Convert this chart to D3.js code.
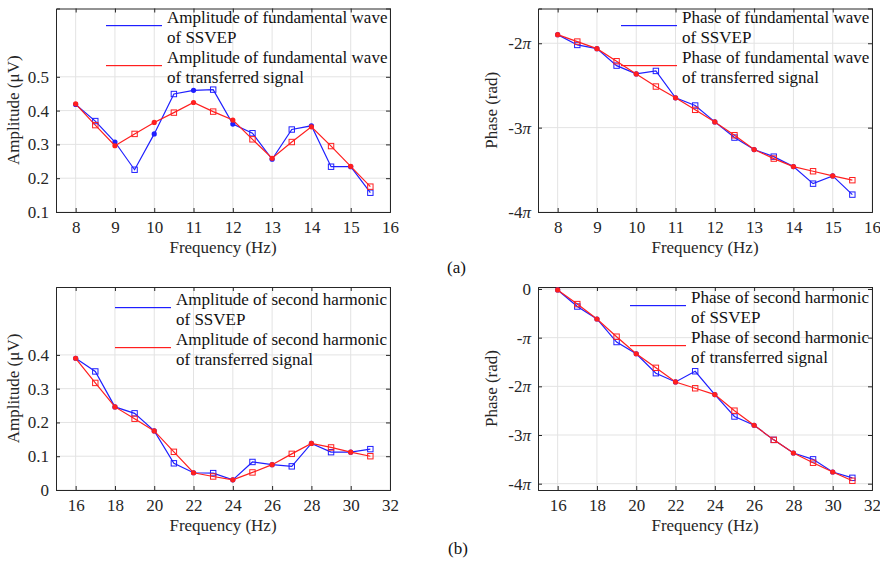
<!DOCTYPE html>
<html lang="en">
<head>
	<meta charset="utf-8">
	<title>SSVEP amplitude and phase</title>
	<script type="text/javascript" src="https://cdn.jsdelivr.net/npm/d3@7/dist/d3.min.js" charset="utf-8"></script>
	<style>
		body { margin: 0; background: #ffffff; }
		svg { display: block; font-family: "Liberation Serif", "Times New Roman", serif; }
	</style>
</head>
<body>
	<div id="figure"></div>
	<script type="text/javascript">

		// Stimulus frequencies (Hz)
		var freqFund = [8, 8.5, 9, 9.5, 10, 10.5, 11, 11.5, 12, 12.5, 13, 13.5, 14, 14.5, 15, 15.5];
		var freqHarm = [16, 17, 18, 19, 20, 21, 22, 23, 24, 25, 26, 27, 28, 29, 30, 31];

		// Amplitudes (uV)
		var ampFundSSVEP = [0.418, 0.369, 0.307, 0.225, 0.331, 0.449, 0.460, 0.462, 0.360, 0.333, 0.256, 0.344, 0.355, 0.234, 0.234, 0.157];
		var ampFundTrans = [0.420, 0.357, 0.296, 0.331, 0.365, 0.394, 0.424, 0.397, 0.372, 0.315, 0.259, 0.307, 0.352, 0.295, 0.235, 0.175];
		var ampHarmSSVEP = [0.390, 0.351, 0.246, 0.227, 0.175, 0.079, 0.051, 0.050, 0.030, 0.083, 0.075, 0.070, 0.138, 0.112, 0.112, 0.121];
		var ampHarmTrans = [0.390, 0.317, 0.246, 0.211, 0.175, 0.113, 0.051, 0.040, 0.030, 0.052, 0.075, 0.107, 0.138, 0.126, 0.112, 0.100];

		// Phases, in multiples of pi (rad)
		var phaseFundSSVEP = [-1.898, -2.020, -2.064, -2.265, -2.363, -2.328, -2.647, -2.738, -2.932, -3.118, -3.260, -3.344, -3.462, -3.664, -3.572, -3.794];
		var phaseFundTrans = [-1.898, -1.980, -2.064, -2.213, -2.363, -2.513, -2.647, -2.789, -2.932, -3.090, -3.260, -3.367, -3.462, -3.517, -3.572, -3.623];
		var phaseHarmSSVEP = [-0.020, -0.360, -0.616, -1.090, -1.330, -1.730, -1.910, -1.690, -2.170, -2.620, -2.800, -3.100, -3.370, -3.500, -3.760, -3.880];
		var phaseHarmTrans = [-0.020, -0.310, -0.616, -0.980, -1.330, -1.620, -1.910, -2.040, -2.170, -2.500, -2.800, -3.100, -3.370, -3.570, -3.760, -3.940];

		// Tick values
		var fundFreqTicks = [8, 9, 10, 11, 12, 13, 14, 15, 16];
		var harmFreqTicks = [16, 18, 20, 22, 24, 26, 28, 30, 32];
		var ampFundTicks = [0.1, 0.2, 0.3, 0.4, 0.5];
		var ampHarmTicks = [0, 0.1, 0.2, 0.3, 0.4];
		var phaseFundTicks = [-4, -3, -2];
		var phaseHarmTicks = [-4, -3, -2, -1, 0];

		var blue = "#1f1fff";
		var red = "#ff1f1f";

		var svg = d3.select("#figure")
					.append("svg")
					.attr("width", 880)
					.attr("height", 566);

		// label for pi multiples, returned as [prefix, italic pi]
		function piLabel(k) {
			if (k === 0) return ["0", ""];
			if (k === -1) return ["-", "\u03c0"];
			return [String(k), "\u03c0"];
		}

		function drawPanel(p) {
			var x = d3.scaleLinear().domain(p.xDomain).range([p.left, p.right]);
			var y = d3.scaleLinear().domain(p.yDomain).range([p.bottom, p.top]);
			var g = svg.append("g");

			// grid
			g.selectAll(".gx").data(p.xTicks).enter().append("line")
				.attr("x1", function(d) { return x(d); }).attr("x2", function(d) { return x(d); })
				.attr("y1", p.top).attr("y2", p.bottom)
				.attr("stroke", "#e3e3e3").attr("stroke-width", 1);
			g.selectAll(".gy").data(p.yTicks).enter().append("line")
				.attr("x1", p.left).attr("x2", p.right)
				.attr("y1", function(d) { return y(d); }).attr("y2", function(d) { return y(d); })
				.attr("stroke", "#e3e3e3").attr("stroke-width", 1);

			// inward ticks on all four sides, matlab style
			var axisColor = "#262626";
			var tl = 4;
			g.append("g").attr("transform", "translate(0," + p.bottom + ")")
				.call(d3.axisBottom(x).tickValues(p.xTicks).tickSize(-tl).tickFormat(d3.format("d")).tickPadding(9))
				.call(styleAxis);
			g.append("g").attr("transform", "translate(0," + p.top + ")")
				.call(d3.axisTop(x).tickValues(p.xTicks).tickSize(-tl).tickFormat(""))
				.call(styleAxis);
			var yAxisLeft = g.append("g").attr("transform", "translate(" + p.left + ",0)")
				.call(d3.axisLeft(y).tickValues(p.yTicks).tickSize(-tl).tickPadding(7)
					.tickFormat(p.piTicks ? "" : d3.format(p.yFormat)))
				.call(styleAxis);
			g.append("g").attr("transform", "translate(" + p.right + ",0)")
				.call(d3.axisRight(y).tickValues(p.yTicks).tickSize(-tl).tickFormat(""))
				.call(styleAxis);

			if (p.piTicks) {
				yAxisLeft.selectAll(".tick").each(function(d) {
					var parts = piLabel(d);
					var t = d3.select(this).select("text").text(null);
					t.append("tspan").text(parts[0]);
					if (parts[1]) t.append("tspan").attr("font-style", "italic").text(parts[1]);
				});
			}

			// data lines and markers, SSVEP first then transferred signal on top
			var series = [
				{ values: p.s1, color: blue },
				{ values: p.s2, color: red }
			];
			var line = d3.line()
				.x(function(d) { return x(d.f); })
				.y(function(d) { return y(d.v); });

			series.forEach(function(s) {
				var pts = p.freq.map(function(f, i) { return { f: f, v: s.values[i], i: i }; });
				g.append("path").datum(pts)
					.attr("d", line)
					.attr("fill", "none")
					.attr("stroke", s.color)
					.attr("stroke-width", 1.2);
				g.selectAll(null).data(pts.filter(function(d) { return d.i % 2 === 0; }))
					.enter().append("circle")
					.attr("cx", function(d) { return x(d.f); })
					.attr("cy", function(d) { return y(d.v); })
					.attr("r", 2.6)
					.attr("fill", s.color);
				g.selectAll(null).data(pts.filter(function(d) { return d.i % 2 === 1; }))
					.enter().append("rect")
					.attr("x", function(d) { return x(d.f) - 2.7; })
					.attr("y", function(d) { return y(d.v) - 2.7; })
					.attr("width", 5.4).attr("height", 5.4)
					.attr("fill", "none")
					.attr("stroke", s.color)
					.attr("stroke-width", 1);
			});

			// axis labels
			g.append("text")
				.attr("x", (p.left + p.right) / 2)
				.attr("y", p.bottom + 41)
				.attr("text-anchor", "middle")
				.attr("font-size", 17)
				.attr("fill", axisColor)
				.text("Frequency (Hz)");
			g.append("text")
				.attr("transform", "translate(" + (p.left - p.yLabelGap) + "," + ((p.top + p.bottom) / 2) + ") rotate(-90)")
				.attr("text-anchor", "middle")
				.attr("font-size", 17)
				.attr("fill", axisColor)
				.text(p.yLabel);

			// legend, no box, anchored at the upper right
			var leg = g.append("g");
			var lines = [p.legend[0][0], p.legend[0][1], p.legend[1][0], p.legend[1][1]];
			var base = Math.round(p.top + p.legendTop);
			var texts = leg.selectAll("text").data(lines).enter().append("text")
				.attr("y", function(d, i) { return base + i * 20; })
				.attr("font-size", 17)
				.attr("fill", "#111")
				.text(function(d) { return d; });
			var maxW = 0;
			texts.each(function() { maxW = Math.max(maxW, this.getComputedTextLength()); });
			var tx = Math.round(p.right - 3 - maxW);
			texts.attr("x", tx);
			// legend samples as thin filled bars on whole pixels
			[blue, red].forEach(function(c, i) {
				leg.append("rect")
					.attr("x", tx - 61)
					.attr("y", base + 2 + i * 40)
					.attr("width", 56)
					.attr("height", 1.2)
					.attr("fill", c);
			});

			function styleAxis(sel) {
				sel.select(".domain").attr("stroke", axisColor).attr("stroke-width", 1);
				sel.selectAll(".tick line").attr("stroke", axisColor);
				sel.selectAll(".tick text")
					.attr("font-family", "Liberation Serif, Times New Roman, serif")
					.attr("font-size", 17)
					.attr("fill", axisColor);
			}
		}

		// (a) upper left: amplitude of fundamental wave
		drawPanel({
			left: 56, right: 390, top: 8.5, bottom: 212,
			xDomain: [7.5, 16], yDomain: [0.1, 0.702],
			xTicks: fundFreqTicks, yTicks: ampFundTicks, yFormat: ".1f",
			freq: freqFund, s1: ampFundSSVEP, s2: ampFundTrans,
			yLabel: "Amplitude (\u03bcV)", yLabelGap: 37, legendTop: 14.5,
			legend: [["Amplitude of fundamental wave", "of SSVEP"],
					 ["Amplitude of fundamental wave", "of transferred signal"]]
		});

		// (a) upper right: phase of fundamental wave
		drawPanel({
			left: 538, right: 872, top: 8.5, bottom: 212,
			xDomain: [7.5, 16], yDomain: [-4, -1.588],
			xTicks: fundFreqTicks, yTicks: phaseFundTicks, piTicks: true,
			freq: freqFund, s1: phaseFundSSVEP, s2: phaseFundTrans,
			yLabel: "Phase (rad)", yLabelGap: 41, legendTop: 14.5,
			legend: [["Phase of fundamental wave", "of SSVEP"],
					 ["Phase of fundamental wave", "of transferred signal"]]
		});

		// (b) lower left: amplitude of second harmonic
		drawPanel({
			left: 56, right: 390, top: 287, bottom: 490,
			xDomain: [15, 32], yDomain: [0, 0.601],
			xTicks: harmFreqTicks, yTicks: ampHarmTicks, yFormat: ".1~f",
			freq: freqHarm, s1: ampHarmSSVEP, s2: ampHarmTrans,
			yLabel: "Amplitude (\u03bcV)", yLabelGap: 37, legendTop: 18,
			legend: [["Amplitude of second harmonic", "of SSVEP"],
					 ["Amplitude of second harmonic", "of transferred signal"]]
		});

		// (b) lower right: phase of second harmonic
		drawPanel({
			left: 538, right: 872, top: 287, bottom: 490,
			xDomain: [15, 32], yDomain: [-4.13, 0.041],
			xTicks: harmFreqTicks, yTicks: phaseHarmTicks, piTicks: true,
			freq: freqHarm, s1: phaseHarmSSVEP, s2: phaseHarmTrans,
			yLabel: "Phase (rad)", yLabelGap: 41, legendTop: 16,
			legend: [["Phase of second harmonic", "of SSVEP"],
					 ["Phase of second harmonic", "of transferred signal"]]
		});

		// sub-figure captions
		svg.append("text").attr("x", 447).attr("y", 273)
			.attr("font-size", 17).attr("fill", "#111").text("(a)");
		svg.append("text").attr("x", 448).attr("y", 554)
			.attr("font-size", 17).attr("fill", "#111").text("(b)");

	</script>
</body>
</html>
